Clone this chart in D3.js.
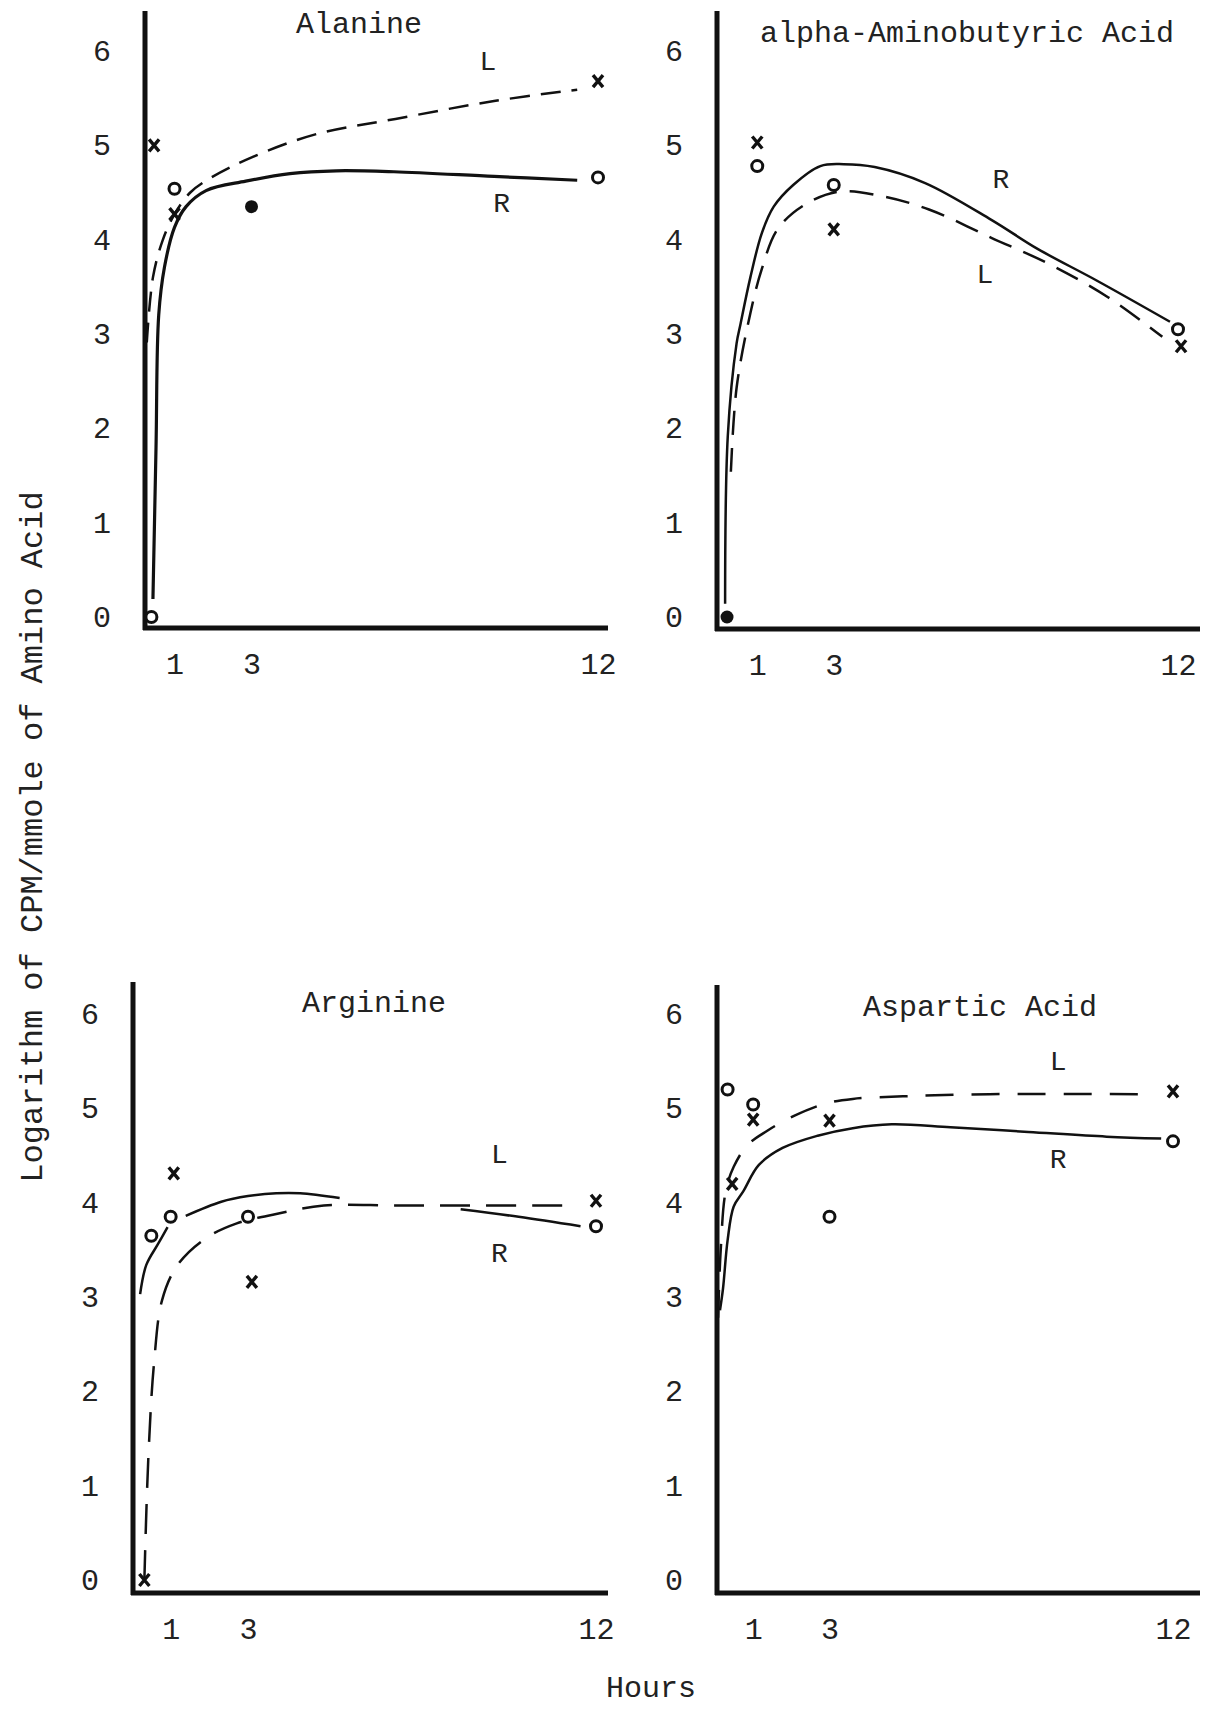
<!DOCTYPE html>
<html>

<head>
    <meta charset='utf-8'>
    <title>Log CPM per mmole of amino acid</title>
    <script src='https://d3js.org/d3.v7.min.js'></script>
    <style>
        body { margin: 0; background: #fff; }
        text { font-family: 'Liberation Mono', 'DejaVu Sans Mono', monospace; fill: #222; }
    </style>
</head>

<body>
    <script>
        // panel titles and tick values
        const titles = ['Alanine', 'alpha-Aminobutyric Acid', 'Arginine', 'Aspartic Acid'];
        const logTicks = [0, 1, 2, 3, 4, 5, 6];
        const hourTicks = [1, 3, 12];

        // measured points: [hours, log cpm, mark]
        const alaninePoints = [[0.47, 5.0, 'x'], [1, 4.54, 'o'], [1, 4.27, 'x'], [3, 4.35, 'dot'], [12, 5.68, 'x'], [12, 4.66, 'o'], [0.4, 0, 'o']];
        const aminobutyricPoints = [[1, 5.03, 'x'], [1, 4.78, 'o'], [3, 4.58, 'o'], [3, 4.11, 'x'], [12, 3.05, 'o'], [12.08, 2.87, 'x'], [0.21, 0, 'dot']];
        const argininePoints = [[0.5, 3.65, 'o'], [1, 3.85, 'o'], [1.08, 4.31, 'x'], [3, 3.85, 'o'], [3.1, 3.16, 'x'], [12, 4.02, 'x'], [12, 3.75, 'o'], [0.32, 0, 'x']];
        const asparticPoints = [[0.33, 5.2, 'o'], [1, 5.04, 'o'], [1, 4.88, 'x'], [0.45, 4.2, 'x'], [3, 4.87, 'x'], [3, 3.85, 'o'], [12, 5.18, 'x'], [12, 4.65, 'o']];

        // hand drawn curves (R solid, L dashed), null = break in the line
        const alanineR = [[0.44, 0.19], [0.52, 1.8], [0.59, 3.2], [0.74, 3.71], [1.0, 4.13], [1.3, 4.35], [1.82, 4.52], [2.85, 4.62], [4.0, 4.7], [5.2, 4.73], [6.7, 4.72], [9.3, 4.67], [11.46, 4.63]];
        const alanineL = [[0.28, 2.91], [0.44, 3.6], [0.69, 3.99], [1.0, 4.27], [1.41, 4.5], [1.92, 4.65], [3.05, 4.88], [4.69, 5.12], [6.74, 5.28], [9.3, 5.47], [11.46, 5.59]];
        const aminobutyricR = [[0.16, 0.14], [0.23, 1.92], [0.46, 2.9], [0.56, 3.1], [0.82, 3.6], [1.12, 4.07], [1.43, 4.35], [1.94, 4.58], [2.65, 4.78], [3.26, 4.8], [4.07, 4.77], [5.39, 4.6], [7.12, 4.21], [8.34, 3.9], [9.86, 3.57], [11.79, 3.13]];
        const aminobutyricL = [[0.31, 1.54], [0.46, 2.43], [0.82, 3.22], [1.12, 3.69], [1.53, 4.11], [2.24, 4.37], [3.15, 4.51], [4.27, 4.46], [5.49, 4.32], [7.12, 4.02], [8.64, 3.74], [10.17, 3.39], [11.59, 2.97]];
        const arginineR = [[0.21, 3.03], [0.37, 3.34], [0.67, 3.56], [0.92, 3.74], null, [1.39, 3.86], [2.31, 4.01], [3.0, 4.07], [3.73, 4.1], [4.35, 4.1], [5.37, 4.05], null, [8.5, 3.93], [10.0, 3.85], [11.6, 3.75]];
        const arginineL = [[0.32, 0], [0.42, 1.27], [0.57, 2.3], [0.78, 2.97], [1.18, 3.34], [1.9, 3.62], [2.71, 3.78], [3.73, 3.88], [4.96, 3.97], [6.8, 3.97], [8.84, 3.97], [11.49, 3.97]];
        const asparticR = [[0.13, 2.86], [0.21, 3.09], [0.33, 3.6], [0.49, 3.96], [0.74, 4.12], [1.15, 4.4], [1.77, 4.58], [2.69, 4.71], [3.61, 4.79], [4.63, 4.83], [6.17, 4.8], [8.21, 4.75], [10.26, 4.7], [11.69, 4.68]];
        const asparticL = [[0.08, 2.78], [0.15, 3.5], [0.28, 4.12], [0.49, 4.38], [0.85, 4.61], [1.36, 4.76], [2.07, 4.92], [2.89, 5.05], [3.61, 5.1], [5.15, 5.13], [7.19, 5.15], [11.18, 5.15]];

        // where the curve letters sit: [hours, log cpm, letter]
        const alanineTags = [[9.14, 5.9, 'L'], [9.5, 4.4, 'R']];
        const aminobutyricTags = [[7.37, 4.65, 'R'], [6.95, 3.64, 'L']];
        const arginineTags = [[9.5, 4.52, 'L'], [9.5, 3.48, 'R']];
        const asparticTags = [[8.99, 5.51, 'L'], [8.99, 4.47, 'R']];

        // panel frames in page pixels
        const frames = [
            { left: 145, top: 11, bottom: 628, right: 608, y0: 617, y6: 51, h0: 136, h12: 598, tx: 359, ty: 22, dash: '20,11' },
            { left: 717, top: 11, bottom: 629, right: 1200, y0: 617, y6: 51, h0: 719, h12: 1178, tx: 967, ty: 31, dash: '24,13' },
            { left: 133, top: 982, bottom: 1593, right: 608, y0: 1580, y6: 1014, h0: 132, h12: 596, tx: 374, ty: 1001, dash: '30,16' },
            { left: 717, top: 985, bottom: 1593, right: 1200, y0: 1580, y6: 1014, h0: 715, h12: 1173, tx: 980, ty: 1005, dash: '28,18' }
        ];

        const panels = [
            { points: alaninePoints, R: alanineR, L: alanineL, tags: alanineTags },
            { points: aminobutyricPoints, R: aminobutyricR, L: aminobutyricL, tags: aminobutyricTags },
            { points: argininePoints, R: arginineR, L: arginineL, tags: arginineTags },
            { points: asparticPoints, R: asparticR, L: asparticL, tags: asparticTags }
        ];

        const svg = d3.select('body')
            .append('svg')
            .attr('width', 1213)
            .attr('height', 1711);

        panels.forEach(function (p, i) {
            const f = frames[i];
            const x = d3.scaleLinear().domain([0, 12]).range([f.h0, f.h12]);
            const y = d3.scaleLinear().domain([0, 6]).range([f.y0, f.y6]);
            const g = svg.append('g');

            // thick hand ruled axes
            g.append('line')
                .attr('x1', f.left).attr('x2', f.left)
                .attr('y1', f.top).attr('y2', f.bottom + 2)
                .attr('stroke', '#111').attr('stroke-width', 5);
            g.append('line')
                .attr('x1', f.left - 2).attr('x2', f.right)
                .attr('y1', f.bottom).attr('y2', f.bottom)
                .attr('stroke', '#111').attr('stroke-width', 5);

            // tick labels only, no tick marks
            const yAxis = g.append('g')
                .attr('transform', 'translate(' + f.left + ',0)')
                .call(d3.axisLeft(y).tickValues(logTicks).tickSize(0).tickPadding(43).tickFormat(d3.format('d')));
            const xAxis = g.append('g')
                .attr('transform', 'translate(0,' + f.bottom + ')')
                .call(d3.axisBottom(x).tickValues(hourTicks).tickSize(0).tickPadding(25).tickFormat(d3.format('d')));
            [yAxis, xAxis].forEach(function (a) {
                a.select('.domain').remove();
                a.selectAll('text')
                    .attr('font-family', "'Liberation Mono', monospace")
                    .attr('font-size', 30)
                    .attr('fill', '#444')
                    .attr('text-anchor', 'middle');
            });

            g.append('text')
                .attr('x', f.tx)
                .attr('y', f.ty)
                .attr('dy', '0.35em')
                .attr('text-anchor', 'middle')
                .attr('font-size', 30)
                .text(titles[i]);

            const line = d3.line()
                .defined(function (d) { return d !== null; })
                .x(function (d) { return x(d[0]); })
                .y(function (d) { return y(d[1]); })
                .curve(d3.curveCatmullRom.alpha(0.5));

            g.append('path')
                .datum(p.R)
                .attr('d', line)
                .attr('fill', 'none')
                .attr('stroke', '#111')
                .attr('stroke-width', i === 0 ? 3.2 : 2.5);

            g.append('path')
                .datum(p.L)
                .attr('d', line)
                .attr('fill', 'none')
                .attr('stroke', '#111')
                .attr('stroke-width', 2.5)
                .attr('stroke-dasharray', f.dash);

            g.selectAll('.tag')
                .data(p.tags)
                .enter()
                .append('text')
                .attr('class', 'tag')
                .attr('x', function (d) { return x(d[0]); })
                .attr('y', function (d) { return y(d[1]); })
                .attr('dy', '0.35em')
                .attr('text-anchor', 'middle')
                .attr('font-size', 28)
                .text(function (d) { return d[2]; });

            // o, x and filled dot marks
            const marks = g.selectAll('.mark')
                .data(p.points)
                .enter()
                .append('g')
                .attr('class', 'mark')
                .attr('transform', function (d) { return 'translate(' + x(d[0]) + ',' + y(d[1]) + ')'; });

            marks.filter(function (d) { return d[2] === 'o'; })
                .append('circle')
                .attr('r', 5.5)
                .attr('fill', '#fff')
                .attr('stroke', '#111')
                .attr('stroke-width', 3);

            marks.filter(function (d) { return d[2] === 'dot'; })
                .append('circle')
                .attr('r', 6.5)
                .attr('fill', '#111');

            marks.filter(function (d) { return d[2] === 'x'; })
                .append('path')
                .attr('d', 'M-5,-6L5,6M5,-6L-5,6')
                .attr('stroke', '#111')
                .attr('stroke-width', 3.4);
        });

        // shared axis titles
        svg.append('text')
            .attr('transform', 'translate(31,837) rotate(-90)')
            .attr('dy', '0.35em')
            .attr('text-anchor', 'middle')
            .attr('font-size', 32)
            .text('Logarithm of CPM/mmole of Amino Acid');

        svg.append('text')
            .attr('x', 651)
            .attr('y', 1686)
            .attr('dy', '0.35em')
            .attr('text-anchor', 'middle')
            .attr('font-size', 30)
            .text('Hours');
    </script>
</body>

</html>
